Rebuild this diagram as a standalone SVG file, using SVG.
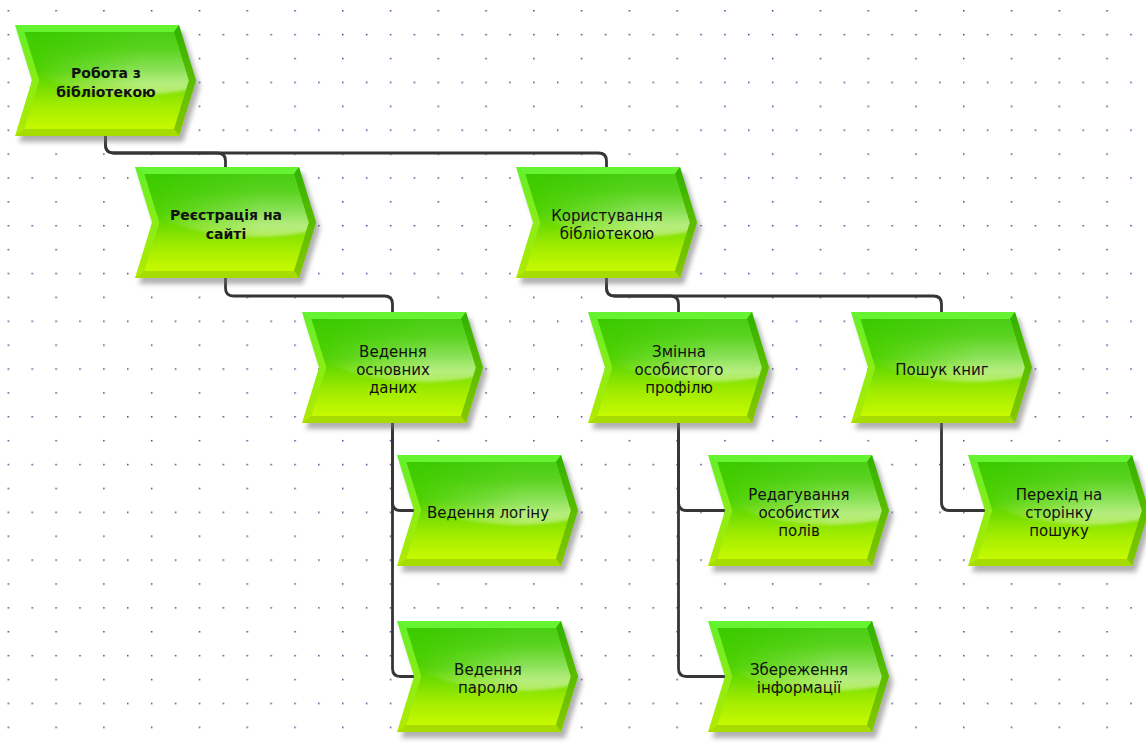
<svg xmlns="http://www.w3.org/2000/svg" xmlns:xlink="http://www.w3.org/1999/xlink" width="1146" height="747" viewBox="0 0 1146 747">
  <style>
    .lbl { font-family: "DejaVu Sans", Verdana, sans-serif; font-size: 15px; fill: #111; text-anchor: middle; }
    .bold { font-weight: bold; font-size: 14px; }
    .conn { fill: none; stroke: #363636; stroke-width: 2.8; stroke-linejoin: round; }
  </style>
  <defs>
    <pattern id="grid" x="7.6" y="10" width="47.77" height="47.77" patternUnits="userSpaceOnUse">
      <rect x="0" y="0" width="1.5" height="1.5" fill="#45458f"/>
      <rect x="0" y="23.88" width="1.5" height="1.5" fill="#45458f"/>
      <rect x="23.88" y="23.88" width="1.5" height="1.5" fill="#45458f"/>
    </pattern>
    <linearGradient id="gOuter" x1="0" y1="0" x2="0" y2="1">
      <stop offset="0" stop-color="#62f02a"/>
      <stop offset="1" stop-color="#b2ea00"/>
    </linearGradient>
    <linearGradient id="gRight" x1="0" y1="0" x2="0" y2="1">
      <stop offset="0" stop-color="#30b200"/>
      <stop offset="1" stop-color="#86c800"/>
    </linearGradient>
    <linearGradient id="gInner" x1="0" y1="0" x2="0" y2="1">
      <stop offset="0" stop-color="#3bca00"/>
      <stop offset="0.4" stop-color="#4ed200"/>
      <stop offset="0.75" stop-color="#a2ec00"/>
      <stop offset="1" stop-color="#c6fa00"/>
    </linearGradient>
    <linearGradient id="gGloss" x1="0" y1="0" x2="0" y2="1">
      <stop offset="0" stop-color="#ffffff" stop-opacity="0"/>
      <stop offset="0.5" stop-color="#ffffff" stop-opacity="0.12"/>
      <stop offset="0.88" stop-color="#ffffff" stop-opacity="0.5"/>
      <stop offset="1" stop-color="#ffffff" stop-opacity="0.35"/>
    </linearGradient>
    <linearGradient id="gMask" x1="0" y1="0" x2="1" y2="0">
      <stop offset="0.1" stop-color="#000"/>
      <stop offset="0.7" stop-color="#fff"/>
      <stop offset="1" stop-color="#fff"/>
    </linearGradient>
    <mask id="glossMask" maskContentUnits="userSpaceOnUse">
      <rect x="0" y="0" width="181" height="111" fill="url(#gMask)"/>
    </mask>
    <clipPath id="innerClip">
      <polygon points="9.4,7 158.8,7 173.7,55.5 158.8,104 9.4,104 24.3,55.5"/>
    </clipPath>
    <filter id="blur" x="-10%" y="-10%" width="130%" height="130%">
      <feGaussianBlur stdDeviation="2.5"/>
    </filter>
    <filter id="soft" x="-10%" y="-20%" width="120%" height="140%">
      <feGaussianBlur stdDeviation="1.6"/>
    </filter>
    <g id="shape">
      <polygon points="4,6 168,6 185,61.5 168,117 4,117 21,61.5" fill="#707070" opacity="0.55" filter="url(#blur)"/>
      <polygon points="0,0 164,0 181,55.5 164,111 0,111 17,55.5" fill="url(#gOuter)"/>
      <polygon points="0,0 164,0 158.8,7 9.4,7" fill="#66f432"/>
      <polygon points="164,0 181,55.5 164,111 158.8,104 173.7,55.5 158.8,7" fill="url(#gRight)"/>
      <polygon points="0,111 164,111 158.8,104 9.4,104" fill="#a6dc00"/>
      <polygon points="9.4,7 158.8,7 173.7,55.5 158.8,104 9.4,104 24.3,55.5" fill="url(#gInner)"/>
      <g clip-path="url(#innerClip)">
        <g mask="url(#glossMask)">
          <ellipse cx="120" cy="24" rx="115" ry="46" fill="url(#gGloss)" filter="url(#soft)"/>
        </g>
      </g>
    </g>
  </defs>

  <rect x="0" y="0" width="1146" height="747" fill="#ffffff"/>
  <rect x="0" y="0" width="1146" height="747" fill="url(#grid)"/>

  <g id="connectors">
    <path class="conn" d="M105.5 136 V145 Q105.5 153 113.5 153 H217.5 Q225.5 153 225.5 161 V167"/>
    <path class="conn" d="M105.5 136 V145 Q105.5 153 113.5 153 H598.5 Q606.5 153 606.5 161 V167"/>
    <path class="conn" d="M225.5 278 V288 Q225.5 296 233.5 296 H384.5 Q392.5 296 392.5 304 V312"/>
    <path class="conn" d="M606.5 278 V288 Q606.5 296 614.5 296 H670.5 Q678.5 296 678.5 304 V312"/>
    <path class="conn" d="M606.5 278 V288 Q606.5 296 614.5 296 H933.5 Q941.5 296 941.5 304 V312"/>
    <path class="conn" d="M392.5 423 V502.5 Q392.5 510.5 400.5 510.5 H414"/>
    <path class="conn" d="M392.5 423 V668.5 Q392.5 676.5 400.5 676.5 H414"/>
    <path class="conn" d="M678.5 423 V502.5 Q678.5 510.5 686.5 510.5 H725"/>
    <path class="conn" d="M678.5 423 V668.5 Q678.5 676.5 686.5 676.5 H725"/>
    <path class="conn" d="M941.5 423 V502.5 Q941.5 510.5 949.5 510.5 H985"/>
  </g>

  <g id="n1">
    <use xlink:href="#shape" x="15" y="25"/>
    <text class="lbl bold" x="106" y="78.3">Робота з</text>
    <text class="lbl bold" x="106" y="97.3">бібліотекою</text>
  </g>
  <g id="n2">
    <use xlink:href="#shape" x="135" y="167"/>
    <text class="lbl bold" x="226" y="220.3">Реєстрація на</text>
    <text class="lbl bold" x="226" y="239.3">сайті</text>
  </g>
  <g id="n3">
    <use xlink:href="#shape" x="516" y="167"/>
    <text class="lbl" x="607" y="220.5">Користування</text>
    <text class="lbl" x="607" y="238.5">бібліотекою</text>
  </g>
  <g id="n4">
    <use xlink:href="#shape" x="302" y="312"/>
    <text class="lbl" x="393" y="356.5">Ведення</text>
    <text class="lbl" x="393" y="374.5">основних</text>
    <text class="lbl" x="393" y="392.5">даних</text>
  </g>
  <g id="n5">
    <use xlink:href="#shape" x="588" y="312"/>
    <text class="lbl" x="679" y="356.5">Змінна</text>
    <text class="lbl" x="679" y="374.5">особистого</text>
    <text class="lbl" x="679" y="392.5">профілю</text>
  </g>
  <g id="n6">
    <use xlink:href="#shape" x="851" y="312"/>
    <text class="lbl" x="942" y="374.5">Пошук книг</text>
  </g>
  <g id="n7">
    <use xlink:href="#shape" x="397" y="455"/>
    <text class="lbl" x="488" y="517.5">Ведення логіну</text>
  </g>
  <g id="n8">
    <use xlink:href="#shape" x="397" y="621"/>
    <text class="lbl" x="488" y="674.5">Ведення</text>
    <text class="lbl" x="488" y="692.5">паролю</text>
  </g>
  <g id="n9">
    <use xlink:href="#shape" x="708" y="455"/>
    <text class="lbl" x="799" y="499.5">Редагування</text>
    <text class="lbl" x="799" y="517.5">особистих</text>
    <text class="lbl" x="799" y="535.5">полів</text>
  </g>
  <g id="n10">
    <use xlink:href="#shape" x="708" y="621"/>
    <text class="lbl" x="799" y="674.5">Збереження</text>
    <text class="lbl" x="799" y="692.5">інформації</text>
  </g>
  <g id="n11">
    <use xlink:href="#shape" x="968" y="455"/>
    <text class="lbl" x="1059" y="499.5">Перехід на</text>
    <text class="lbl" x="1059" y="517.5">сторінку</text>
    <text class="lbl" x="1059" y="535.5">пошуку</text>
  </g>
</svg>
